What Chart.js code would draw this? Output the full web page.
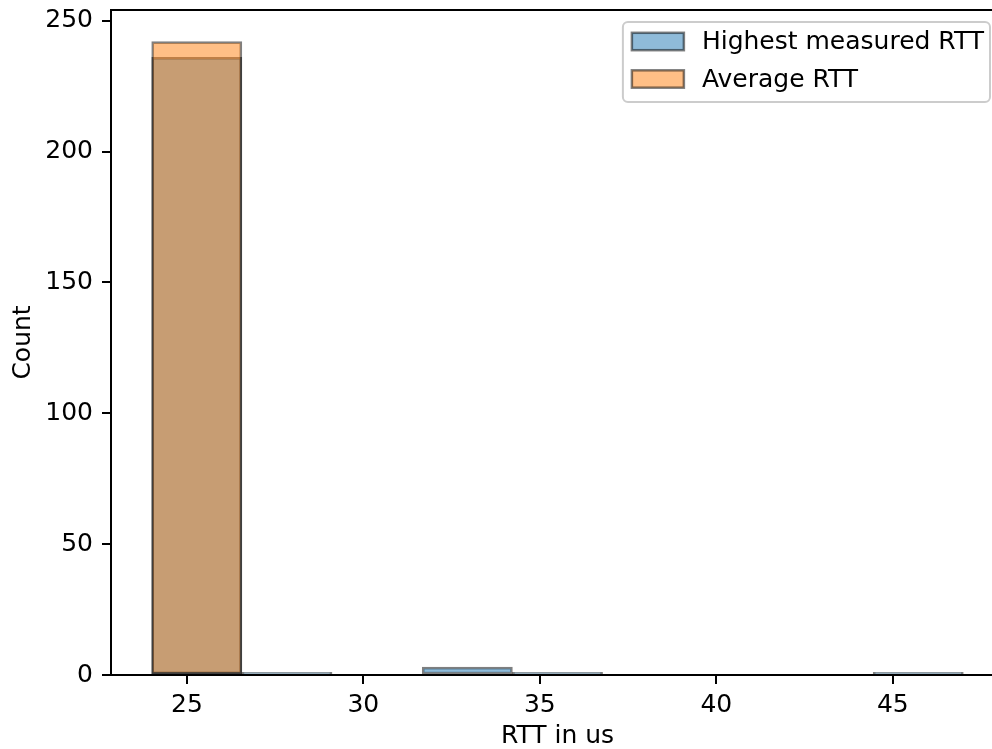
<!DOCTYPE html>
<html><head><meta charset="utf-8">
<script src="https://cdn.jsdelivr.net/npm/chart.js@4.4.0/dist/chart.umd.min.js"></script>
<style>html,body{margin:0;padding:0;overflow:hidden;background:#fff}#wrap{width:1012px;height:749px;}</style>
</head><body><div id="wrap"><canvas id="c" width="1012" height="749"></canvas></div>
<script>
// Histogram bins (edges)
const binEdges = [24, 26.56, 29.11, 31.67, 34.22, 36.78, 39.33, 41.89, 44.44, 47];
// Counts per bin
const highestRTT = [236, 1, 0, 3, 1, 0, 0, 0, 1];
const averageRTT = [242, 0, 0, 0, 0, 0, 0, 0, 0];
const seriesLabels = ['Highest measured RTT', 'Average RTT'];
const xTicks = [25, 30, 35, 40, 45];
const yTicks = [0, 50, 100, 150, 200, 250];
const xLimits = [22.85, 48.15];
const yLimits = [0, 254.1];
const xTitle = 'RTT in us';
const yTitle = 'Count';

const centers = binEdges.slice(0, -1).map((e, i) => (e + binEdges[i + 1]) / 2);
const toPoints = arr => arr.map((v, i) => ({x: centers[i], y: v}));

Chart.defaults.font.family = '"DejaVu Sans", sans-serif';
Chart.defaults.font.size = 25;
Chart.defaults.color = '#000';

const spinePlugin = {
  id: 'spines',
  afterDatasetsDraw(chart) {
    const a = chart.chartArea, ctx = chart.ctx;
    ctx.save();
    ctx.strokeStyle = '#000';
    ctx.lineWidth = 2;
    ctx.strokeRect(a.left, a.top, a.right - a.left, a.bottom - a.top);
    ctx.restore();
  }
};

const legendPlugin = {
  id: 'mplLegend',
  afterDraw(chart) {
    const ctx = chart.ctx, a = chart.chartArea;
    const ds = chart.data.datasets;
    ctx.save();
    ctx.font = '25px "DejaVu Sans"';
    const textW = Math.max(...ds.map(d => ctx.measureText(d.label).width));
    const right = a.right - 14, top = a.top + 12;
    const pad = 9, patchW = 52, gap = 18;
    const width = pad + patchW + gap + textW + 6;
    const left = right - width;
    const height = 80;
    ctx.beginPath();
    ctx.roundRect(left, top, width, height, 5);
    ctx.fillStyle = 'rgba(255,255,255,0.8)';
    ctx.fill();
    ctx.strokeStyle = '#cccccc';
    ctx.lineWidth = 2;
    ctx.stroke();
    const rows = [top + 19.5, top + 57];
    ds.forEach((d, i) => {
      const cy = rows[i];
      const px = left + pad;
      ctx.fillStyle = '#fff';
      ctx.fillRect(px, cy - 8.7, patchW, 17.4);
      ctx.fillStyle = d.backgroundColor;
      ctx.fillRect(px, cy - 8.7, patchW, 17.4);
      ctx.strokeStyle = d.borderColor;
      ctx.lineWidth = 2.5;
      ctx.strokeRect(px, cy - 8.7, patchW, 17.4);
      ctx.fillStyle = '#000';
      ctx.textBaseline = 'middle';
      ctx.textAlign = 'left';
      ctx.fillText(d.label, px + patchW + gap, cy + 1);
    });
    ctx.restore();
  }
};

new Chart(document.getElementById('c'), {
  type: 'bar',
  data: {
    datasets: [
      {label: seriesLabels[0], data: toPoints(highestRTT), backgroundColor: 'rgba(31,119,180,0.5)',
       borderColor: 'rgba(0,0,0,0.5)', borderWidth: 2, borderSkipped: false, order: 1},
      {label: seriesLabels[1], data: toPoints(averageRTT), backgroundColor: 'rgba(255,127,14,0.5)',
       borderColor: 'rgba(0,0,0,0.5)', borderWidth: 2, borderSkipped: false, order: 0}
    ]
  },
  options: {
    responsive: false,
    animation: false,
    devicePixelRatio: 1,
    layout: {padding: {top: 10, left: 0, right: 8, bottom: 0}},
    datasets: {bar: {barPercentage: 1, categoryPercentage: 1, grouped: false}},
    plugins: {legend: {display: false}, tooltip: {enabled: false}},
    scales: {
      x: {
        type: 'linear', min: xLimits[0], max: xLimits[1], offset: false,
        grid: {display: true, offset: false, drawOnChartArea: false, drawTicks: true, tickLength: 9, color: '#000', lineWidth: 2},
        border: {display: false},
        ticks: {padding: 6, maxRotation: 0, autoSkip: false},
        afterBuildTicks: s => { s.ticks = xTicks.map(v => ({value: v})); },
        afterFit: s => { s.height = 74; s.paddingLeft = 0; s.paddingRight = 0; },
        title: {display: true, text: xTitle, font: {size: 25, lineHeight: 1}, padding: {top: 0, bottom: 0}}
      },
      y: {
        type: 'linear', min: yLimits[0], max: yLimits[1],
        grid: {display: true, drawOnChartArea: false, drawTicks: true, tickLength: 9, color: '#000', lineWidth: 2},
        border: {display: false},
        ticks: {padding: 9},
        afterBuildTicks: s => { s.ticks = yTicks.map(v => ({value: v})); },
        afterFit: s => { s.width = 111; s.paddingTop = 0; s.paddingBottom = 0; },
        title: {display: true, text: yTitle, font: {size: 25, lineHeight: 1.2}, padding: {top: 8, bottom: 0}}
      }
    }
  },
  plugins: [spinePlugin, legendPlugin]
});
</script></body></html>
